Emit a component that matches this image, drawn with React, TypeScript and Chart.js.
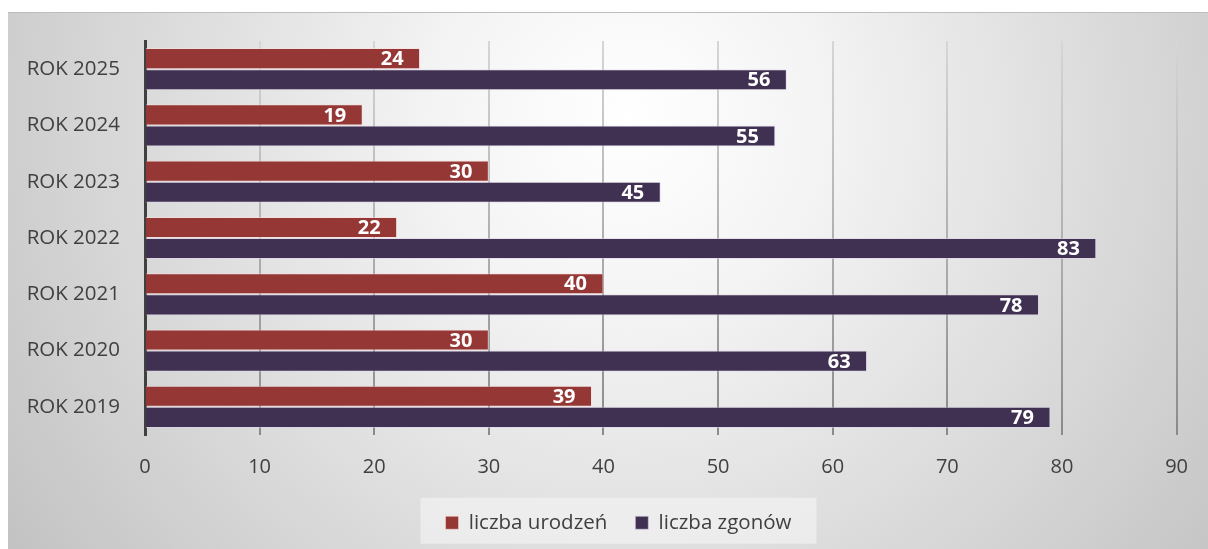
import React, { useEffect, useRef } from "react";
import { Chart, registerables } from "chart.js";

Chart.register(...registerables);

const categories = ["ROK 2025", "ROK 2024", "ROK 2023", "ROK 2022", "ROK 2021", "ROK 2020", "ROK 2019"];
const births = [24, 19, 30, 22, 40, 30, 39];
const deaths = [56, 55, 45, 83, 78, 63, 79];
const seriesNames = ["liczba urodzeń", "liczba zgonów"];
const xTicks = [0, 10, 20, 30, 40, 50, 60, 70, 80, 90];

const FONT = "'Open Sans', 'Noto Sans', sans-serif";
const LEGEND_SIZE = 20.5;

const bgPlugin = {
  id: "bgPlugin",
  afterLayout(chart: any) {
    const lg = chart.legend;
    if (lg) {
      lg.left += 26;
      lg.right += 26;
    }
  },
  beforeDraw(chart: any) {
    const { ctx, width, height } = chart;
    ctx.save();
    const g = ctx.createRadialGradient(620, 110, 0, 620, 110, 760);
    g.addColorStop(0, "#ffffff");
    g.addColorStop(0.25, "#f4f4f4");
    g.addColorStop(1, "#c2c2c2");
    ctx.fillStyle = g;
    ctx.fillRect(0, 0, width, height);
    ctx.fillStyle = "#bdbdbd";
    ctx.fillRect(0, 0, width, 1);
    // legend box
    const lg = chart.legend;
    if (lg) {
      const cx = (lg.left + lg.right) / 2;
      const cy = lg.top + lg.options.labels.padding + LEGEND_SIZE / 2;
      ctx.fillStyle = "rgba(245,245,245,0.6)";
      ctx.fillRect(cx - 198, cy - 25, 396, 46);
    }
    ctx.restore();
  },
};

const labelPlugin = {
  id: "labelPlugin",
  afterDatasetsDraw(chart: any) {
    const { ctx } = chart;
    ctx.save();
    ctx.font = `bold 20px ${FONT}`;
    ctx.fillStyle = "#ffffff";
    ctx.textAlign = "right";
    ctx.textBaseline = "middle";
    chart.data.datasets.forEach((ds: any, di: number) => {
      const meta = chart.getDatasetMeta(di);
      meta.data.forEach((el: any, i: number) => {
        ctx.fillText(String(ds.data[i]), el.x - 16.5, el.y + 1);
      });
    });
    ctx.restore();
  },
};

export default function App() {
  const ref = useRef<HTMLCanvasElement | null>(null);
  useEffect(() => {
    document.documentElement.style.overflow = "hidden";
    const canvas = ref.current!;
    const chart = new Chart(canvas, {
      type: "bar",
      data: {
        labels: categories,
        datasets: [
          {
            label: seriesNames[0],
            data: births,
            backgroundColor: "#953735",
            borderColor: "rgba(255,220,220,0.55)",
            borderWidth: 1,
            categoryPercentage: 0.75,
            barPercentage: 1,
          },
          {
            label: seriesNames[1],
            data: deaths,
            backgroundColor: "#403152",
            borderColor: "rgba(220,210,235,0.6)",
            borderWidth: 1,
            categoryPercentage: 0.75,
            barPercentage: 1,
          },
        ],
      },
      options: {
        indexAxis: "y",
        animation: false,
        responsive: true,
        maintainAspectRatio: false,
        devicePixelRatio: 1,
        layout: { padding: { top: 29, right: 31, left: 0, bottom: 6 } },
        plugins: {
          tooltip: { enabled: false },
          legend: {
            position: "bottom",
            labels: {
              font: { family: FONT, size: LEGEND_SIZE },
              color: "#404040",
              boxWidth: 13,
              boxHeight: 13,
              padding: 28,
            },
          },
        },
        scales: {
          x: {
            min: 0,
            max: 90,
            afterBuildTicks: (scale: any) => {
              scale.ticks = xTicks.map((v) => ({ value: v }));
            },
            afterFit: (scale: any) => {
              scale.height = 49.5;
            },
            border: { display: false },
            grid: {
              drawTicks: false,
              lineWidth: 2,
              color: (c: any) => {
                const ch = c.chart;
                const ca = ch.chartArea;
                if (!ca) return "#aaaaaa";
                const g = ch.ctx.createLinearGradient(0, ca.top, 0, ca.bottom);
                g.addColorStop(0, "#d6d6d6");
                g.addColorStop(1, "#8a8a8a");
                return g;
              },
            },
            ticks: {
              padding: 20,
              color: "#404040",
              font: { family: FONT, size: 20 },
            },
          },
          y: {
            afterFit: (scale: any) => {
              scale.width = 137;
            },
            border: { display: true, color: "#404040", width: 3 },
            grid: { display: false, drawTicks: true, tickLength: 20 },
            ticks: {
              padding: 5,
              color: "#404040",
              font: { family: FONT, size: 20.5 },
            },
          },
        },
      },
      plugins: [bgPlugin, labelPlugin],
    } as any);
    return () => chart.destroy();
  }, []);
  return (
    <div style={{ position: "absolute", left: 8, top: 12, width: 1200, height: 537 }}>
      <canvas ref={ref} />
    </div>
  );
}
